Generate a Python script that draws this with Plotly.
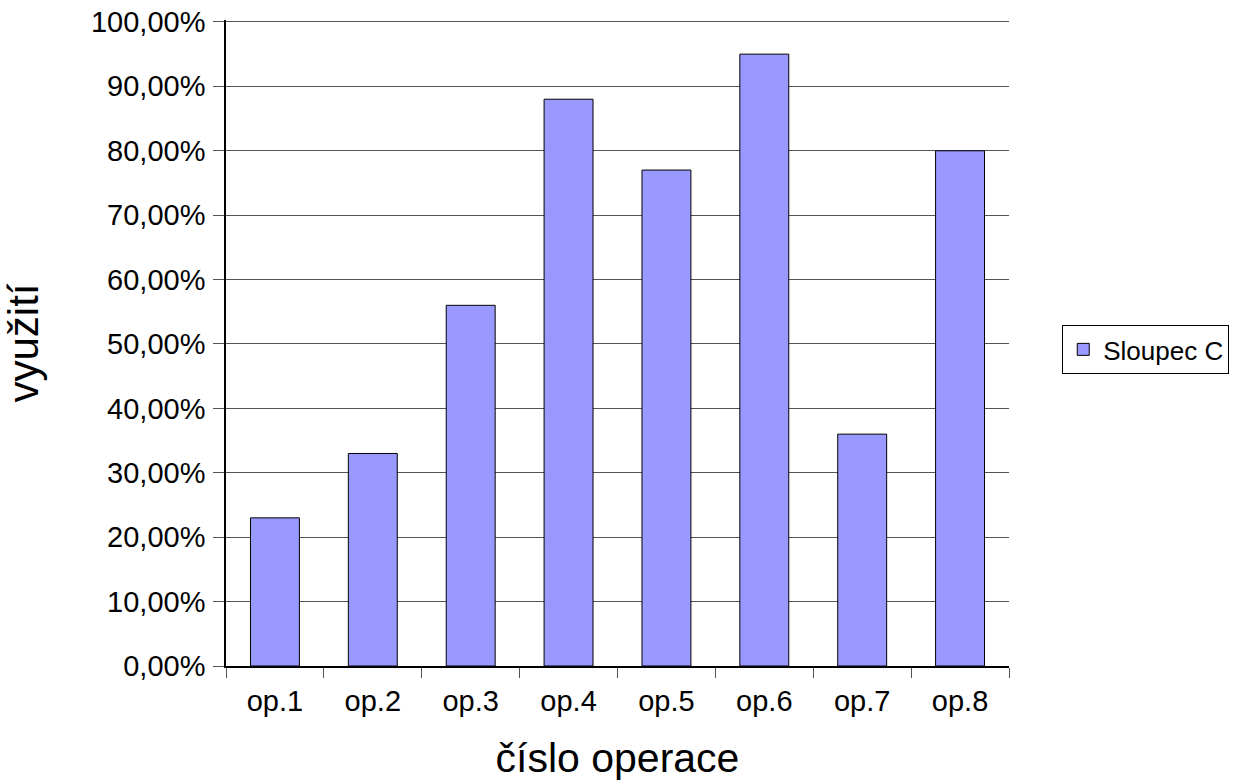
import plotly.graph_objects as go

categories = ["op.1", "op.2", "op.3", "op.4", "op.5", "op.6", "op.7", "op.8"]
values = [0.23, 0.33, 0.56, 0.88, 0.77, 0.95, 0.36, 0.80]
series_name = "Sloupec C"
y_tickvals = [i / 10 for i in range(11)]

fig = go.Figure()
fig.add_trace(go.Bar(
    x=categories, y=values, name=series_name,
    marker=dict(color="#9999FF", line=dict(color="black", width=1)),
    showlegend=True,
))

font_family = "Liberation Sans, Arial, sans-serif"
fig.update_layout(
    width=1243, height=781,
    margin=dict(l=226, r=234, t=20, b=115),
    plot_bgcolor="white", paper_bgcolor="white",
    separators=", ",
    bargap=0.5,
    font=dict(family=font_family, size=29, color="black"),
    showlegend=True,
    legend=dict(
        x=1.068, y=0.49, xanchor="left", yanchor="middle",
        bordercolor="black", borderwidth=1,
        font=dict(size=26), bgcolor="white",
    ),
    xaxis=dict(
        title=dict(text="číslo operace", font=dict(size=41), standoff=28),
        showline=True, linecolor="black", linewidth=2,
        ticks="outside", tickson="boundaries", ticklen=10, tickcolor="#555",
        showgrid=False, automargin=False,
        tickfont=dict(size=29), ticklabelstandoff=8,
    ),
    yaxis=dict(
        title=dict(text="využití", font=dict(size=42), standoff=40),
        range=[0, 1.003], tickvals=y_tickvals, tickformat=".2%",
        showline=True, linecolor="black", linewidth=1.5,
        ticks="outside", ticklen=11, tickcolor="#555",
        showgrid=True, gridcolor="#555", gridwidth=1,
        zeroline=False, automargin=False,
        tickfont=dict(size=29), ticklabelstandoff=2,
        ticklabeloverflow="allow",
    ),
)

fig.write_html(
    "out.html",
    config={"displayModeBar": False},
    post_script="document.body.style.margin='0';document.body.style.overflow='hidden';",
)
